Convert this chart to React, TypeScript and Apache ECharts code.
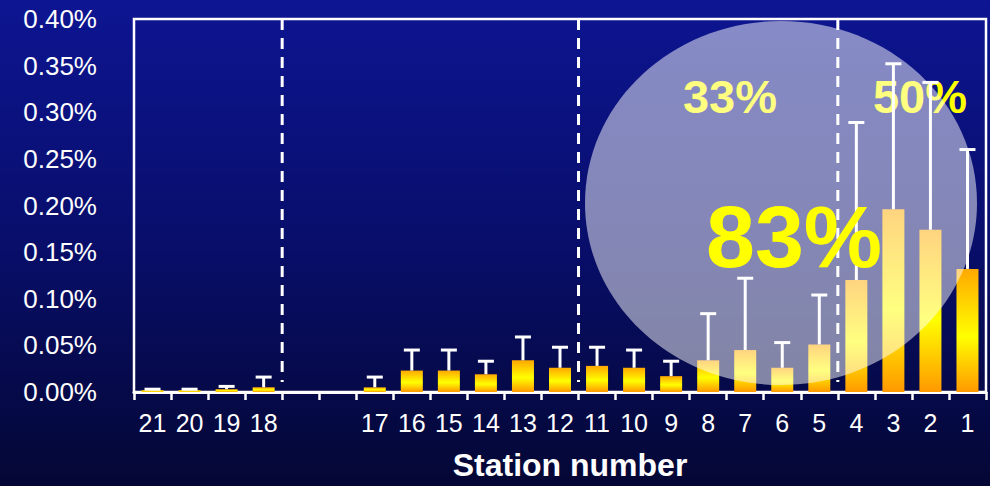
import React, { useEffect, useRef } from "react";
import * as echarts from "echarts";

const categories = ["21", "20", "19", "18", " ", "  ", "17", "16", "15", "14", "13", "12", "11", "10", "9", "8", "7", "6", "5", "4", "3", "2", "1"];
const values: (number | null)[] = [0.002, 0.002, 0.003, 0.005, null, null, 0.005, 0.023, 0.023, 0.019, 0.034, 0.026, 0.028, 0.026, 0.017, 0.034, 0.045, 0.026, 0.051, 0.12, 0.196, 0.174, 0.132];
const errors: (number | null)[] = [0.001, 0.001, 0.003, 0.011, null, null, 0.011, 0.022, 0.022, 0.014, 0.025, 0.022, 0.020, 0.019, 0.016, 0.050, 0.077, 0.027, 0.053, 0.169, 0.156, 0.158, 0.128];
const dividerAfter = ["18", "12", "5"];
const yMin = 0;
const yMax = 0.4;
const yStep = 0.05;
const xAxisTitle = "Station number";
const sideNotes = ["33%", "50%"];
const mainNote = "83%";

const FONT = "'Liberation Sans', Arial, sans-serif";

export default function App() {
  const ref = useRef<HTMLDivElement>(null);
  useEffect(() => {
    if (!ref.current) return;
    const chart = echarts.init(ref.current, null, { renderer: "svg" });
    const barGradient = new echarts.graphic.LinearGradient(0, 0, 0, 1, [
      { offset: 0, color: "#FFA800" },
      { offset: 0.55, color: "#FFFF00" },
      { offset: 1, color: "#FF9900" },
    ]);
    const errData = values
      .map((v, i) => (v == null ? null : [i, v, errors[i] as number]))
      .filter((d) => d !== null);
    const divData = dividerAfter.map((c) => [categories.indexOf(c), 0]);
    chart.setOption({
      animation: false,
      backgroundColor: new echarts.graphic.LinearGradient(0, 0, 0, 1, [
        { offset: 0, color: "#0D1592" },
        { offset: 0.5, color: "#080E6A" },
        { offset: 1, color: "#040734" },
      ]),
      grid: {
        left: 134,
        right: 4,
        top: 19,
        bottom: 92,
        show: true,
        borderColor: "#FFFFFF",
        borderWidth: 2.5,
        backgroundColor: "transparent",
      },
      xAxis: {
        type: "category",
        data: categories,
        boundaryGap: true,
        axisLine: { lineStyle: { color: "#FFFFFF", width: 3 } },
        axisTick: { show: true, length: 8, lineStyle: { color: "#FFFFFF", width: 2.5 } },
        axisLabel: { color: "#FFFFFF", fontSize: 25, fontFamily: FONT, interval: 0, margin: 18 },
        name: xAxisTitle,
        nameLocation: "middle",
        nameGap: 57,
        nameTextStyle: { color: "#FFFFFF", fontSize: 32, fontWeight: "bold", fontFamily: FONT, padding: [0, 0, 0, 20] },
      },
      yAxis: {
        type: "value",
        min: yMin,
        max: yMax,
        interval: yStep,
        axisLine: { show: false },
        axisTick: { show: false },
        splitLine: { show: false },
        axisLabel: {
          color: "#FFFFFF",
          fontSize: 26,
          fontFamily: FONT,
          margin: 37,
          formatter: (v: number) => v.toFixed(2) + "%",
        },
      },
      graphic: [
        {
          type: "text",
          x: 730,
          y: 96,
          z: 1,
          style: { text: sideNotes[0], fill: "#FFFF00", font: `bold 47px ${FONT}`, align: "center", verticalAlign: "middle" },
        },
        {
          type: "text",
          x: 920,
          y: 96,
          z: 1,
          style: { text: sideNotes[1], fill: "#FFFF00", font: `bold 47px ${FONT}`, align: "center", verticalAlign: "middle" },
        },
        {
          type: "ellipse",
          z: 50,
          shape: { cx: 781, cy: 203, rx: 196, ry: 182 },
          style: { fill: "rgba(255,255,255,0.5)" },
        },
        {
          type: "text",
          x: 794,
          y: 236,
          z: 100,
          style: {
            text: mainNote,
            fill: "#FFFF00",
            font: `bold 88px ${FONT}`,
            align: "center",
            verticalAlign: "middle",
            shadowColor: "rgba(40,40,60,0.6)",
            shadowBlur: 3,
            shadowOffsetX: 3,
            shadowOffsetY: 3,
          },
        },
      ],
      series: [
        {
          type: "bar",
          data: values,
          barWidth: 22,
          itemStyle: { color: barGradient },
          z: 2,
        },
        {
          type: "custom",
          z: 3,
          data: errData,
          encode: { x: 0, y: 1 },
          renderItem: (params: any, api: any) => {
            const idx = api.value(0);
            const v = api.value(1);
            const e = api.value(2);
            const p0 = api.coord([idx, v]);
            const p1 = api.coord([idx, v + e]);
            return {
              type: "group",
              children: [
                { type: "line", shape: { x1: p0[0], y1: p0[1], x2: p1[0], y2: p1[1] }, style: { stroke: "#FFFFFF", lineWidth: 3 } },
                { type: "line", shape: { x1: p1[0] - 8, y1: p1[1], x2: p1[0] + 8, y2: p1[1] }, style: { stroke: "#FFFFFF", lineWidth: 3 } },
              ],
            };
          },
        },
        {
          type: "custom",
          z: 3,
          data: divData,
          encode: { x: 0, y: 1 },
          renderItem: (params: any, api: any) => {
            const idx = api.value(0);
            const p = api.coord([idx, 0]);
            const w = api.size([1, 0])[0];
            const cs = params.coordSys;
            const x = p[0] + w / 2;
            return {
              type: "line",
              shape: { x1: x, y1: cs.y, x2: x, y2: cs.y + cs.height - 10 },
              style: { stroke: "#FFFFFF", lineWidth: 3, lineDash: [11, 8] },
            };
          },
        },
      ],
    });
    return () => chart.dispose();
  }, []);
  return <div ref={ref} style={{ position: "absolute", left: 0, top: 0, width: 990, height: 486 }} />;
}
